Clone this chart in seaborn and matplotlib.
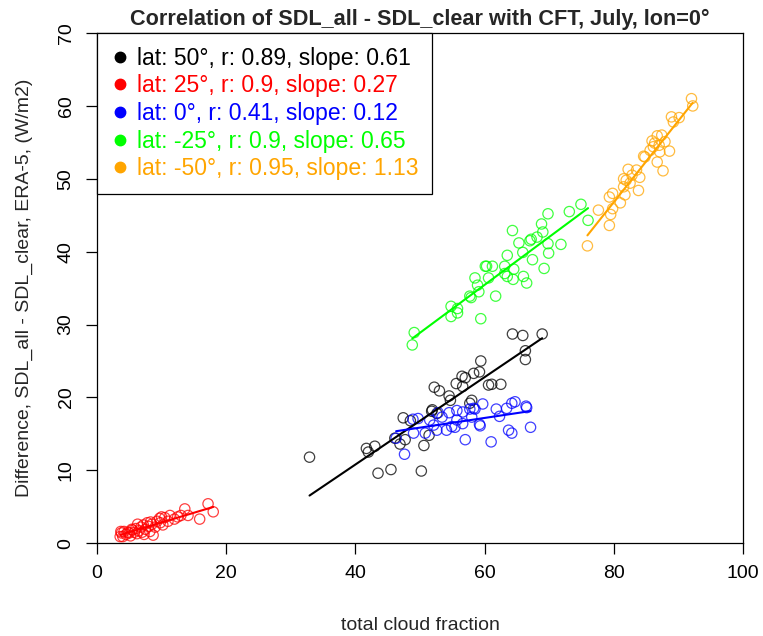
import numpy as np
import pandas as pd
import matplotlib
matplotlib.use("Agg")
import matplotlib.pyplot as plt
from matplotlib.lines import Line2D
import seaborn as sns

# values
lat_50_x = [32.9, 43.5, 45.5, 50.2, 42.0, 43.0, 47.4, 46.9, 47.7, 50.6, 51.4, 51.9, 52.2,
            53.0, 54.5, 54.7, 55.6, 56.5, 57.0, 56.6, 58.3, 59.2, 59.4, 58.0, 57.7, 60.6,
            61.1, 62.5, 64.3, 65.9, 68.9, 66.3, 66.3, 52.6, 46.1, 51.8, 48.5, 41.7]
lat_50_y = [11.8, 9.6, 10.1, 9.9, 12.5, 13.3, 17.2, 13.6, 14.2, 13.4, 14.8, 18.3, 21.4,
            20.9, 20.2, 19.6, 21.9, 22.9, 22.7, 21.5, 23.3, 23.5, 25.0, 19.6, 19.2, 21.7,
            21.8, 21.8, 28.7, 28.5, 28.7, 26.4, 25.2, 17.8, 14.4, 18.1, 16.8, 13.0]

lat_25_x = [3.6, 3.8, 4.0, 4.2, 4.5, 5.0, 5.2, 5.5, 5.8, 6.0, 6.2, 6.5, 6.8, 7.0, 7.2,
            7.5, 7.8, 8.0, 8.2, 8.5, 8.7, 9.0, 9.3, 9.7, 10.0, 10.2, 10.5, 11.0, 11.3,
            12.0, 12.5, 13.0, 13.6, 14.1, 15.9, 17.2, 18.0, 6.3, 5.4, 4.8, 3.7, 7.3,
            9.8, 8.3]
lat_25_y = [0.9, 1.4, 0.9, 1.6, 1.2, 1.4, 1.0, 1.8, 1.5, 2.0, 1.3, 1.7, 2.2, 1.5, 2.5,
            1.9, 2.8, 2.3, 1.6, 2.6, 1.1, 2.2, 3.0, 3.4, 3.6, 2.5, 3.5, 3.0, 3.8,
            3.3, 3.6, 3.8, 4.7, 3.8, 3.3, 5.4, 4.3, 2.6, 1.9, 1.5, 1.6, 1.2,
            2.8, 2.9]

lat_0_x = [46.3, 47.6, 48.9, 49.0, 50.8, 51.5, 52.8, 52.6, 54.1, 54.5, 55.4, 55.7, 56.6,
           56.6, 57.0, 58.0, 58.3, 58.5, 59.3, 59.2, 59.7, 61.0, 61.8, 62.3, 63.4, 64.2,
           64.7, 63.7, 64.2, 66.4, 66.5, 67.1, 49.7, 53.4, 55.7, 57.7, 52.1, 54.9]
lat_0_y = [14.4, 12.2, 17.0, 15.1, 15.1, 16.9, 17.9, 15.5, 15.5, 17.9, 15.9, 16.9, 18.0,
           16.4, 14.2, 17.3, 18.5, 18.4, 16.1, 16.3, 19.1, 13.9, 18.4, 17.4, 18.5, 19.2,
           19.4, 15.5, 15.1, 18.8, 18.6, 15.9, 17.1, 17.3, 18.2, 18.4, 16.2, 16.0]

lat_m25_x = [48.8, 49.1, 54.8, 54.8, 55.8, 55.8, 57.7, 57.9, 59.4, 59.1, 58.9, 58.5, 60.6,
             60.1, 60.3, 61.2, 61.7, 63.1, 63.5, 63.1, 63.5, 64.4, 64.5, 64.3, 65.3, 65.9,
             66.0, 66.5, 67.0, 67.2, 67.4, 68.1, 68.8, 69.0, 69.2, 69.8, 69.9, 69.8, 71.8,
             73.1, 74.9, 76.0]
lat_m25_y = [27.2, 28.9, 32.5, 31.1, 31.6, 32.2, 33.9, 33.7, 30.8, 34.5, 35.4, 36.4, 36.4,
             38.0, 38.0, 38.0, 33.9, 38.0, 39.5, 37.0, 36.6, 36.2, 37.6, 42.9, 41.2, 39.9,
             36.6, 35.7, 41.5, 41.7, 38.9, 42.0, 43.8, 42.7, 37.7, 41.1, 39.8, 45.2, 41.0,
             45.5, 46.5, 44.3]

lat_m50_x = [75.9, 77.6, 79.3, 79.5, 79.8, 79.3, 79.8, 81.0, 81.7, 81.5, 81.9, 81.5, 82.2,
             82.8, 82.5, 83.8, 84.0, 83.5, 84.6, 84.8, 85.9, 86.1, 85.6, 86.7, 87.4, 87.0,
             86.7, 87.6, 87.9, 88.6, 87.1, 88.9, 89.2, 90.1, 92.0, 92.2, 86.3]
lat_m50_y = [40.8, 45.7, 43.6, 45.1, 45.9, 47.5, 48.0, 46.7, 47.8, 48.9, 49.8, 50.0, 51.3,
             50.5, 49.4, 48.4, 50.2, 51.2, 53.1, 53.0, 55.2, 54.4, 53.9, 55.9, 56.0, 54.6,
             52.3, 51.1, 55.1, 53.8, 53.7, 58.5, 57.8, 58.4, 61.0, 60.0, 54.9]

series_labels = ["lat: 50°, r: 0.89, slope: 0.61",
                 "lat: 25°, r: 0.9, slope: 0.27",
                 "lat: 0°, r: 0.41, slope: 0.12",
                 "lat: -25°, r: 0.9, slope: 0.65",
                 "lat: -50°, r: 0.95, slope: 1.13"]
series_colors = ["black", "#FF0000", "#0000FF", "#00FF00", "#FFA500"]
series_xy = [(lat_50_x, lat_50_y), (lat_25_x, lat_25_y), (lat_0_x, lat_0_y),
             (lat_m25_x, lat_m25_y), (lat_m50_x, lat_m50_y)]

sns.set_style("ticks")
plt.rcParams["font.family"] = ["Liberation Sans", "DejaVu Sans"]

fig = plt.figure(figsize=(7.63, 6.36), dpi=100)
ax = fig.add_axes([0.127, 0.146, 0.847, 0.802])

for (xs, ys), col in zip(series_xy, series_colors):
    df = pd.DataFrame({"x": xs, "y": ys})
    ax.scatter(df["x"], df["y"], s=55, facecolors="none", edgecolors=col,
               linewidths=0.9, alpha=0.75, zorder=2)
    sns.regplot(data=df, x="x", y="y", scatter=False, ci=None, truncate=True,
                color=col, line_kws={"lw": 1.5, "zorder": 3}, ax=ax)

ax.set_xlim(0, 100)
ax.set_ylim(0, 70)
ax.set_xticks(np.arange(0, 101, 20))
ax.set_yticks(np.arange(0, 71, 10))
ax.tick_params(direction="out", length=8, width=0.9, labelsize=14, pad=8, colors="black")
for t in ax.get_yticklabels():
    t.set_rotation(90)
    t.set_va("center")
for s in ax.spines.values():
    s.set_visible(True)
    s.set_color("black")
    s.set_linewidth(0.9)

ax.set_xlabel("total cloud fraction", fontsize=14, labelpad=25)
ax.set_ylabel("Difference, SDL_all - SDL_clear, ERA-5, (W/m2)", fontsize=14, labelpad=18)
ax.set_title("Correlation of SDL_all - SDL_clear with CFT, July, lon=0°",
             fontsize=15.6, fontweight="bold", pad=6)

handles = [Line2D([], [], marker="o", linestyle="none", color=c, markersize=7.5)
           for c in series_colors]
leg = ax.legend(handles, series_labels, loc="upper left", borderaxespad=0,
                fontsize=16.5, frameon=True, fancybox=False, framealpha=1,
                edgecolor="black", handletextpad=0.33, labelspacing=0.2,
                borderpad=0.6, handlelength=0.82)
leg.get_frame().set_linewidth(0.9)
for txt, c in zip(leg.get_texts(), series_colors):
    txt.set_color(c)

fig.savefig("out.png", dpi=100)
